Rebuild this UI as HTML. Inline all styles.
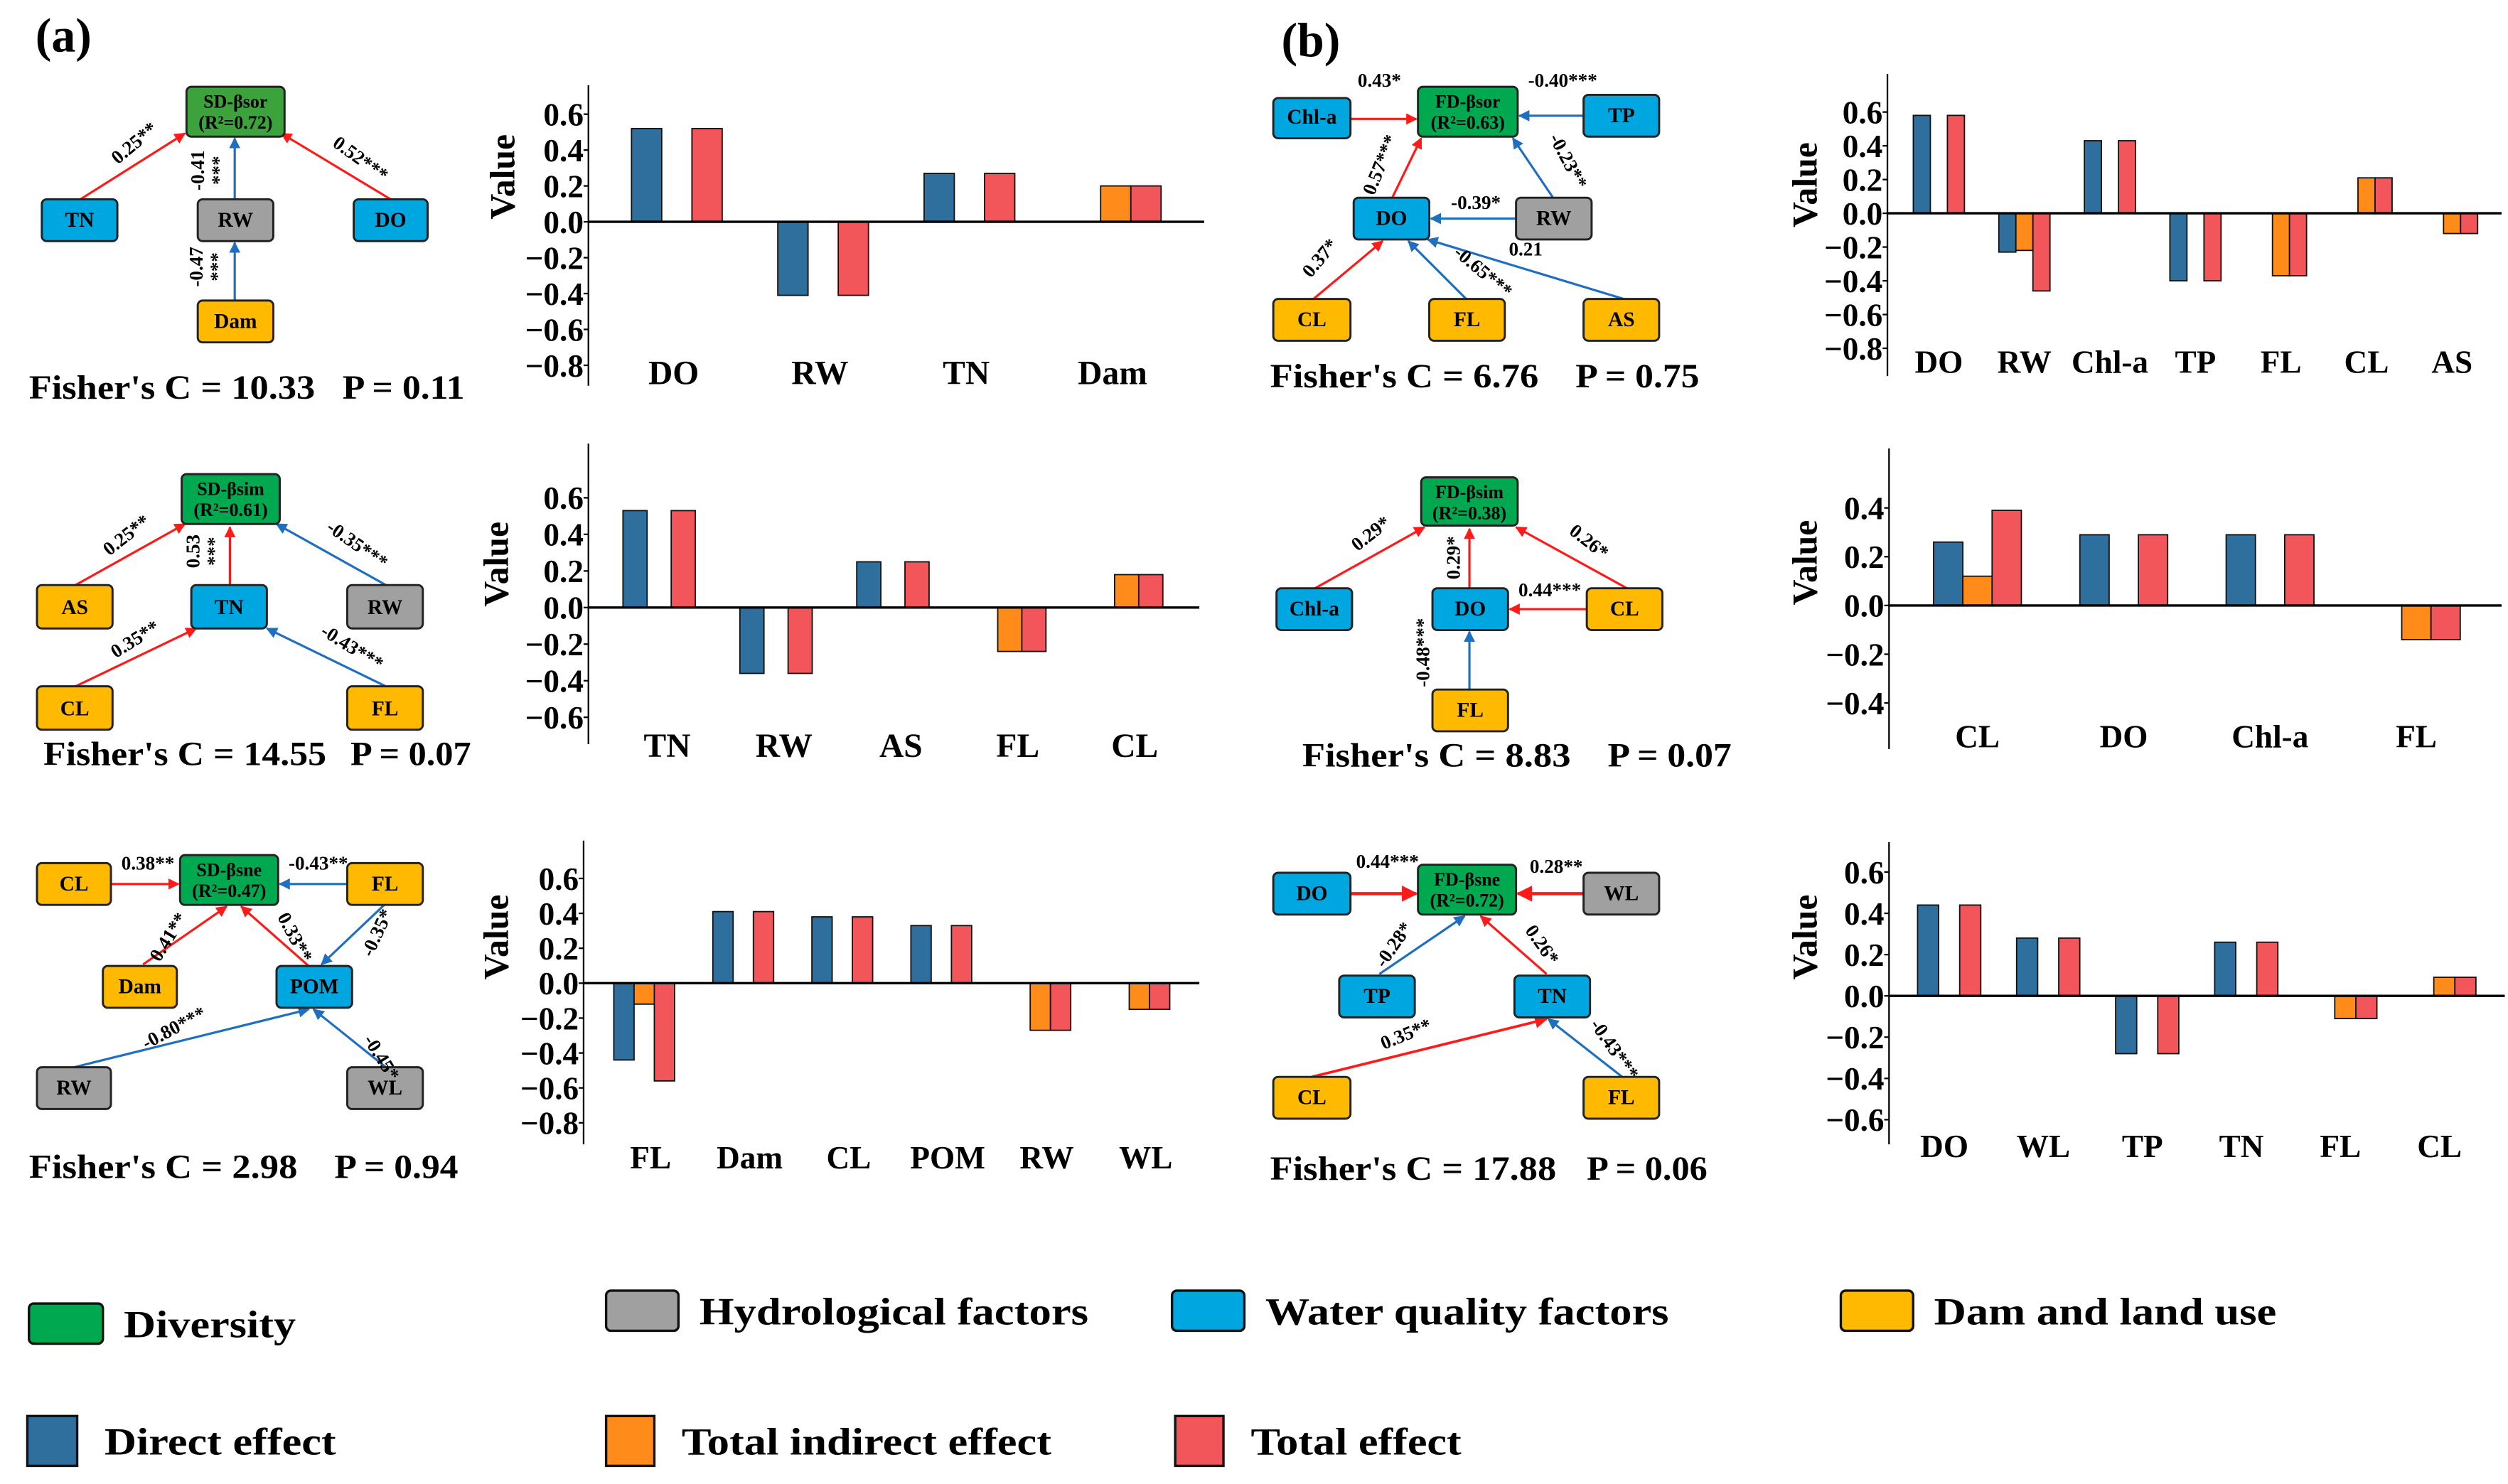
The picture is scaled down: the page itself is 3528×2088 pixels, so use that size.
<!DOCTYPE html>
<html><head><meta charset="utf-8"><title>SEM paths and effects</title>
<style>
html,body{margin:0;padding:0;background:#fff;}
svg{display:block;}
text{font-family:"Liberation Serif",serif;font-weight:bold;fill:#000;}
.nd{stroke:#222;stroke-width:1.3;}
.nt{font-size:13px;text-anchor:middle;}
.el{font-size:12px;text-anchor:middle;}
.fc{font-size:21px;}
.lg{font-size:24px;}
</style></head>
<body>
<svg id="fig" xmlns="http://www.w3.org/2000/svg" width="3528" height="2088" viewBox="0 0 1560 923.3" preserveAspectRatio="none">
<defs>
<marker id="ar" viewBox="0 0 10 10" refX="9" refY="5" markerWidth="5" markerHeight="5" orient="auto-start-reverse"><path d="M0,0 L10,5 L0,10 z" fill="#ff1a1a"/></marker>
<marker id="ab" viewBox="0 0 10 10" refX="9" refY="5" markerWidth="5" markerHeight="5" orient="auto-start-reverse"><path d="M0,0 L10,5 L0,10 z" fill="#1f6fc0"/></marker>
</defs>

<text x="22" y="32" style="font-size:30px">(a)</text>
<text x="797" y="35" style="font-size:30px">(b)</text>

<!-- a1 diagram -->
<g>
<line x1="50" y1="124" x2="115" y2="83" stroke="#ff1a1a" stroke-width="1.4" marker-end="url(#ar)"/>
<line x1="243" y1="124" x2="175" y2="83" stroke="#ff1a1a" stroke-width="1.4" marker-end="url(#ar)"/>
<line x1="146" y1="124" x2="146" y2="86" stroke="#1f6fc0" stroke-width="1.4" marker-end="url(#ab)"/>
<line x1="146" y1="187" x2="146" y2="151" stroke="#1f6fc0" stroke-width="1.4" marker-end="url(#ab)"/>
<rect class="nd" x="116" y="54" width="61" height="31" rx="3" fill="#3ca23c"/>
<text class="nt" x="146.5" y="67" style="font-size:11.5px">SD-βsor</text><text class="nt" x="146.5" y="80" style="font-size:11.5px">(R²=0.72)</text>
<rect class="nd" x="26" y="124" width="47" height="26" rx="3" fill="#00a6e0"/><text class="nt" x="49.5" y="141">TN</text>
<rect class="nd" x="123" y="124" width="47" height="26" rx="3" fill="#a0a0a0"/><text class="nt" x="146.5" y="141">RW</text>
<rect class="nd" x="220" y="124" width="46" height="26" rx="3" fill="#00a6e0"/><text class="nt" x="243" y="141">DO</text>
<rect class="nd" x="123" y="187" width="47" height="26" rx="3" fill="#ffba00"/><text class="nt" x="146.5" y="204">Dam</text>
<text class="el" transform="translate(86,92) rotate(-40)">0.25**</text>
<text class="el" transform="translate(222,102) rotate(36)">0.52***</text>
<text class="el" transform="translate(127,106) rotate(-90)">-0.41</text>
<text class="el" transform="translate(140,106) rotate(-90)">***</text>
<text class="el" transform="translate(126,166) rotate(-90)">-0.47</text>
<text class="el" transform="translate(139,166) rotate(-90)">***</text>
<g>
<text class="fc" x="18" y="248" textLength="178" lengthAdjust="spacingAndGlyphs">Fisher's C = 10.33</text>
<text class="fc" x="213" y="248" textLength="76" lengthAdjust="spacingAndGlyphs">P = 0.11</text></g>
</g>

<!-- a2 diagram -->
<g>
<line x1="47" y1="364" x2="115" y2="326" stroke="#ff1a1a" stroke-width="1.4" marker-end="url(#ar)"/>
<line x1="143" y1="364" x2="143" y2="328" stroke="#ff1a1a" stroke-width="1.4" marker-end="url(#ar)"/>
<line x1="240" y1="364" x2="172" y2="326" stroke="#1f6fc0" stroke-width="1.4" marker-end="url(#ab)"/>
<line x1="47" y1="427" x2="122" y2="391" stroke="#ff1a1a" stroke-width="1.4" marker-end="url(#ar)"/>
<line x1="240" y1="427" x2="166" y2="391" stroke="#1f6fc0" stroke-width="1.4" marker-end="url(#ab)"/>
<rect class="nd" x="113" y="295" width="61" height="31" rx="3" fill="#00a84f"/>
<text class="nt" x="143.5" y="308" style="font-size:11.5px">SD-βsim</text><text class="nt" x="143.5" y="321" style="font-size:11.5px">(R²=0.61)</text>
<rect class="nd" x="23" y="364" width="47" height="27" rx="3" fill="#ffba00"/><text class="nt" x="46.5" y="382">AS</text>
<rect class="nd" x="119" y="364" width="47" height="27" rx="3" fill="#00a6e0"/><text class="nt" x="142.5" y="382">TN</text>
<rect class="nd" x="216" y="364" width="47" height="27" rx="3" fill="#a0a0a0"/><text class="nt" x="239.5" y="382">RW</text>
<rect class="nd" x="23" y="427" width="47" height="27" rx="3" fill="#ffba00"/><text class="nt" x="46.5" y="445">CL</text>
<rect class="nd" x="216" y="427" width="47" height="27" rx="3" fill="#ffba00"/><text class="nt" x="239.5" y="445">FL</text>
<text class="el" transform="translate(81,336) rotate(-38)">0.25**</text>
<text class="el" transform="translate(124,343) rotate(-90)">0.53</text>
<text class="el" transform="translate(137,343) rotate(-90)">***</text>
<text class="el" transform="translate(220,342) rotate(35)">-0.35***</text>
<text class="el" transform="translate(86,401) rotate(-32)">0.35**</text>
<text class="el" transform="translate(217,406) rotate(32)">-0.43***</text>
<g>
<text class="fc" x="27" y="476" textLength="176" lengthAdjust="spacingAndGlyphs">Fisher's C = 14.55</text>
<text class="fc" x="218" y="476" textLength="75" lengthAdjust="spacingAndGlyphs">P = 0.07</text></g>
</g>

<!-- a3 diagram -->
<g>
<line x1="69" y1="550" x2="111" y2="550" stroke="#ff1a1a" stroke-width="1.4" marker-end="url(#ar)"/>
<line x1="216" y1="550" x2="174" y2="550" stroke="#1f6fc0" stroke-width="1.4" marker-end="url(#ab)"/>
<line x1="89" y1="600" x2="141" y2="564" stroke="#ff1a1a" stroke-width="1.4" marker-end="url(#ar)"/>
<line x1="192" y1="601" x2="150" y2="564" stroke="#ff1a1a" stroke-width="1.4" marker-end="url(#ar)"/>
<line x1="239" y1="563" x2="200" y2="600" stroke="#1f6fc0" stroke-width="1.4" marker-end="url(#ab)"/>
<line x1="46" y1="664" x2="192" y2="628" stroke="#1f6fc0" stroke-width="1.4" marker-end="url(#ab)"/>
<line x1="240" y1="664" x2="195" y2="628" stroke="#1f6fc0" stroke-width="1.4" marker-end="url(#ab)"/>
<rect class="nd" x="112" y="532" width="61" height="31" rx="3" fill="#00a84f"/>
<text class="nt" x="142.5" y="545" style="font-size:11.5px">SD-βsne</text><text class="nt" x="142.5" y="558" style="font-size:11.5px">(R²=0.47)</text>
<rect class="nd" x="23" y="537" width="46" height="26" rx="3" fill="#ffba00"/><text class="nt" x="46" y="554">CL</text>
<rect class="nd" x="216" y="537" width="47" height="26" rx="3" fill="#ffba00"/><text class="nt" x="239.5" y="554">FL</text>
<rect class="nd" x="64" y="601" width="46" height="26" rx="3" fill="#ffba00"/><text class="nt" x="87" y="618">Dam</text>
<rect class="nd" x="172" y="601" width="47" height="26" rx="3" fill="#00a6e0"/><text class="nt" x="195.5" y="618">POM</text>
<rect class="nd" x="23" y="664" width="46" height="26" rx="3" fill="#a0a0a0"/><text class="nt" x="46" y="681">RW</text>
<rect class="nd" x="216" y="664" width="47" height="26" rx="3" fill="#a0a0a0"/><text class="nt" x="239.5" y="681">WL</text>
<text class="el" x="92" y="541">0.38**</text>
<text class="el" x="198" y="541">-0.43**</text>
<text class="el" transform="translate(108,585) rotate(-58)">0.41**</text>
<text class="el" transform="translate(180,585) rotate(62)">0.33**</text>
<text class="el" transform="translate(238,582) rotate(-65)">-0.35*</text>
<text class="el" transform="translate(110,643) rotate(-28)">-0.80***</text>
<text class="el" transform="translate(234,660) rotate(58)">-0.45*</text>
<g>
<text class="fc" x="18" y="733" textLength="167" lengthAdjust="spacingAndGlyphs">Fisher's C = 2.98</text>
<text class="fc" x="208" y="733" textLength="77" lengthAdjust="spacingAndGlyphs">P = 0.94</text></g>
</g>

<!-- b1 diagram -->
<g>
<line x1="840" y1="74" x2="881" y2="74" stroke="#ff1a1a" stroke-width="1.4" marker-end="url(#ar)"/>
<line x1="985" y1="72" x2="945" y2="72" stroke="#1f6fc0" stroke-width="1.4" marker-end="url(#ab)"/>
<line x1="866" y1="123" x2="884" y2="86" stroke="#ff1a1a" stroke-width="1.4" marker-end="url(#ar)"/>
<line x1="966" y1="123" x2="941" y2="86" stroke="#1f6fc0" stroke-width="1.4" marker-end="url(#ab)"/>
<line x1="943" y1="136" x2="890" y2="136" stroke="#1f6fc0" stroke-width="1.4" marker-end="url(#ab)"/>
<line x1="817" y1="186" x2="860" y2="150" stroke="#ff1a1a" stroke-width="1.4" marker-end="url(#ar)"/>
<line x1="912" y1="186" x2="876" y2="150" stroke="#1f6fc0" stroke-width="1.4" marker-end="url(#ab)"/>
<line x1="1010" y1="186" x2="888" y2="149" stroke="#1f6fc0" stroke-width="1.4" marker-end="url(#ab)"/>
<rect class="nd" x="882" y="54" width="62" height="31" rx="3" fill="#00a84f"/>
<text class="nt" x="913" y="67" style="font-size:11.5px">FD-βsor</text><text class="nt" x="913" y="80" style="font-size:11.5px">(R²=0.63)</text>
<rect class="nd" x="792" y="61" width="48" height="25" rx="3" fill="#00a6e0"/><text class="nt" x="816" y="77">Chl-a</text>
<rect class="nd" x="985" y="59" width="47" height="26" rx="3" fill="#00a6e0"/><text class="nt" x="1008.5" y="76">TP</text>
<rect class="nd" x="842" y="123" width="47" height="26" rx="3" fill="#00a6e0"/><text class="nt" x="865.5" y="140">DO</text>
<rect class="nd" x="943" y="123" width="47" height="26" rx="3" fill="#a0a0a0"/><text class="nt" x="966.5" y="140">RW</text>
<rect class="nd" x="792" y="186" width="48" height="26" rx="3" fill="#ffba00"/><text class="nt" x="816" y="203">CL</text>
<rect class="nd" x="889" y="186" width="47" height="26" rx="3" fill="#ffba00"/><text class="nt" x="912.5" y="203">FL</text>
<rect class="nd" x="985" y="186" width="47" height="26" rx="3" fill="#ffba00"/><text class="nt" x="1008.5" y="203">AS</text>
<text class="el" x="858" y="54">0.43*</text>
<text class="el" x="972" y="54">-0.40***</text>
<text class="el" transform="translate(972,102) rotate(62)">-0.23**</text>
<text class="el" transform="translate(862,104) rotate(-68)">0.57***</text>
<text class="el" x="918" y="130">-0.39*</text>
<text class="el" x="949" y="159">0.21</text>
<text class="el" transform="translate(824,163) rotate(-50)">0.37*</text>
<text class="el" transform="translate(920,172) rotate(40)">-0.65***</text>
<g>
<text class="fc" x="790" y="241" textLength="167" lengthAdjust="spacingAndGlyphs">Fisher's C = 6.76</text>
<text class="fc" x="980" y="241" textLength="77" lengthAdjust="spacingAndGlyphs">P = 0.75</text></g>
</g>

<!-- b2 diagram -->
<g>
<line x1="818" y1="366" x2="886" y2="328" stroke="#ff1a1a" stroke-width="1.4" marker-end="url(#ar)"/>
<line x1="914" y1="366" x2="914" y2="329" stroke="#ff1a1a" stroke-width="1.4" marker-end="url(#ar)"/>
<line x1="1012" y1="366" x2="943" y2="328" stroke="#ff1a1a" stroke-width="1.4" marker-end="url(#ar)"/>
<line x1="987" y1="379" x2="939" y2="379" stroke="#ff1a1a" stroke-width="1.4" marker-end="url(#ar)"/>
<line x1="914" y1="429" x2="914" y2="393" stroke="#1f6fc0" stroke-width="1.4" marker-end="url(#ab)"/>
<rect class="nd" x="884" y="297" width="60" height="30" rx="3" fill="#00a84f"/>
<text class="nt" x="914" y="310" style="font-size:11.5px">FD-βsim</text><text class="nt" x="914" y="323" style="font-size:11.5px">(R²=0.38)</text>
<rect class="nd" x="794" y="366" width="47" height="26" rx="3" fill="#00a6e0"/><text class="nt" x="817.5" y="383">Chl-a</text>
<rect class="nd" x="891" y="366" width="47" height="26" rx="3" fill="#00a6e0"/><text class="nt" x="914.5" y="383">DO</text>
<rect class="nd" x="987" y="366" width="47" height="26" rx="3" fill="#ffba00"/><text class="nt" x="1010.5" y="383">CL</text>
<rect class="nd" x="891" y="429" width="47" height="26" rx="3" fill="#ffba00"/><text class="nt" x="914.5" y="446">FL</text>
<text class="el" transform="translate(855,335) rotate(-38)">0.29*</text>
<text class="el" transform="translate(908,347) rotate(-90)">0.29*</text>
<text class="el" transform="translate(986,340) rotate(38)">0.26*</text>
<text class="el" x="964" y="371">0.44***</text>
<text class="el" transform="translate(889,406) rotate(-90)">-0.48***</text>
<g>
<text class="fc" x="810" y="477" textLength="167" lengthAdjust="spacingAndGlyphs">Fisher's C = 8.83</text>
<text class="fc" x="1000" y="477" textLength="77" lengthAdjust="spacingAndGlyphs">P = 0.07</text></g>
</g>

<!-- b3 diagram -->
<g>
<line x1="840" y1="556" x2="881" y2="556" stroke="#ff1a1a" stroke-width="2" marker-end="url(#ar)"/>
<line x1="985" y1="556" x2="944" y2="556" stroke="#ff1a1a" stroke-width="2" marker-end="url(#ar)"/>
<line x1="858" y1="606" x2="911" y2="570" stroke="#1f6fc0" stroke-width="1.4" marker-end="url(#ab)"/>
<line x1="962" y1="606" x2="921" y2="570" stroke="#ff1a1a" stroke-width="1.4" marker-end="url(#ar)"/>
<line x1="816" y1="670" x2="962" y2="634" stroke="#ff1a1a" stroke-width="1.6" marker-end="url(#ar)"/>
<line x1="1009" y1="670" x2="963" y2="634" stroke="#1f6fc0" stroke-width="1.4" marker-end="url(#ab)"/>
<rect class="nd" x="882" y="538" width="61" height="31" rx="3" fill="#00a84f"/>
<text class="nt" x="912.5" y="551" style="font-size:11.5px">FD-βsne</text><text class="nt" x="912.5" y="564" style="font-size:11.5px">(R²=0.72)</text>
<rect class="nd" x="792" y="543" width="48" height="26" rx="3" fill="#00a6e0"/><text class="nt" x="816" y="560">DO</text>
<rect class="nd" x="985" y="543" width="47" height="26" rx="3" fill="#a0a0a0"/><text class="nt" x="1008.5" y="560">WL</text>
<rect class="nd" x="833" y="607" width="47" height="26" rx="3" fill="#00a6e0"/><text class="nt" x="856.5" y="624">TP</text>
<rect class="nd" x="942" y="607" width="47" height="26" rx="3" fill="#00a6e0"/><text class="nt" x="965.5" y="624">TN</text>
<rect class="nd" x="792" y="670" width="48" height="26" rx="3" fill="#ffba00"/><text class="nt" x="816" y="687">CL</text>
<rect class="nd" x="985" y="670" width="47" height="26" rx="3" fill="#ffba00"/><text class="nt" x="1008.5" y="687">FL</text>
<text class="el" x="863" y="540">0.44***</text>
<text class="el" x="968" y="543">0.28**</text>
<text class="el" transform="translate(870,590) rotate(-55)">-0.28*</text>
<text class="el" transform="translate(956,590) rotate(55)">0.26*</text>
<text class="el" transform="translate(876,647) rotate(-22)">0.35**</text>
<text class="el" transform="translate(1001,655) rotate(55)">-0.43***</text>
<g>
<text class="fc" x="790" y="734" textLength="178" lengthAdjust="spacingAndGlyphs">Fisher's C = 17.88</text>
<text class="fc" x="987" y="734" textLength="75" lengthAdjust="spacingAndGlyphs">P = 0.06</text></g>
</g>

<!-- legend -->
<g>
<g><rect x="18" y="811" width="46" height="25" rx="3" fill="#00a84f" stroke="#111" stroke-width="1.5"/><text class="lg" x="77" y="832" textLength="107" lengthAdjust="spacingAndGlyphs">Diversity</text></g>
<g><rect x="377" y="803" width="45" height="25" rx="3" fill="#a0a0a0" stroke="#111" stroke-width="1.5"/><text class="lg" x="435" y="824" textLength="242" lengthAdjust="spacingAndGlyphs">Hydrological factors</text></g>
<g><rect x="729" y="803" width="45" height="25" rx="3" fill="#00a6e0" stroke="#111" stroke-width="1.5"/><text class="lg" x="787" y="824" textLength="251" lengthAdjust="spacingAndGlyphs">Water quality factors</text></g>
<g><rect x="1145" y="803" width="45" height="25" rx="3" fill="#ffba00" stroke="#111" stroke-width="1.5"/><text class="lg" x="1203" y="824" textLength="213" lengthAdjust="spacingAndGlyphs">Dam and land use</text></g>
<g><rect x="17" y="881" width="31" height="31" fill="#2e6f9e" stroke="#111" stroke-width="1.5"/><text class="lg" x="65" y="905" textLength="144" lengthAdjust="spacingAndGlyphs">Direct effect</text></g>
<g><rect x="377" y="881" width="30" height="31" fill="#ff8c1a" stroke="#111" stroke-width="1.5"/><text class="lg" x="424" y="905" textLength="230" lengthAdjust="spacingAndGlyphs">Total indirect effect</text></g>
<g><rect x="731" y="881" width="30" height="31" fill="#f2565a" stroke="#111" stroke-width="1.5"/><text class="lg" x="778" y="905" textLength="131" lengthAdjust="spacingAndGlyphs">Total effect</text></g>
</g>
<g id="charts"></g>
</svg>
<script>
// ---- data ----
const a1Cats = ["DO","RW","TN","Dam"];
const a1Direct = [0.52,-0.41,0.27,0];
const a1Indirect = [0,0,0,0.20];
const a1Total = [0.52,-0.41,0.27,0.20];
const a1Ticks = ["0.6","0.4","0.2","0.0","-0.2","-0.4","-0.6","-0.8"];

const a2Cats = ["TN","RW","AS","FL","CL"];
const a2Direct = [0.53,-0.36,0.25,0,0];
const a2Indirect = [0,0,0,-0.24,0.18];
const a2Total = [0.53,-0.36,0.25,-0.24,0.18];
const a2Ticks = ["0.6","0.4","0.2","0.0","-0.2","-0.4","-0.6"];

const a3Cats = ["FL","Dam","CL","POM","RW","WL"];
const a3Direct = [-0.44,0.41,0.38,0.33,0,0];
const a3Indirect = [-0.12,0,0,0,-0.27,-0.15];
const a3Total = [-0.56,0.41,0.38,0.33,-0.27,-0.15];
const a3Ticks = ["0.6","0.4","0.2","0.0","-0.2","-0.4","-0.6","-0.8"];

const b1Cats = ["DO","RW","Chl-a","TP","FL","CL","AS"];
const b1Direct = [0.58,-0.23,0.43,-0.40,0,0,0];
const b1Indirect = [0,-0.22,0,0,-0.37,0.21,-0.12];
const b1Total = [0.58,-0.46,0.43,-0.40,-0.37,0.21,-0.12];
const b1Ticks = ["0.6","0.4","0.2","0.0","-0.2","-0.4","-0.6","-0.8"];

const b2Cats = ["CL","DO","Chl-a","FL"];
const b2Direct = [0.26,0.29,0.29,0];
const b2Indirect = [0.12,0,0,-0.14];
const b2Total = [0.39,0.29,0.29,-0.14];
const b2Ticks = ["0.4","0.2","0.0","-0.2","-0.4"];

const b3Cats = ["DO","WL","TP","TN","FL","CL"];
const b3Direct = [0.44,0.28,-0.28,0.26,0,0];
const b3Indirect = [0,0,0,0,-0.11,0.09];
const b3Total = [0.44,0.28,-0.28,0.26,-0.11,0.09];
const b3Ticks = ["0.6","0.4","0.2","0.0","-0.2","-0.4","-0.6"];

// ---- layout ----
const NS = "http://www.w3.org/2000/svg";
const COLORS = ["#2e6f9e","#ff8c1a","#f2565a"];
const SERIES = ["direct","indirect","total"];
function mk(tag, parent, attrs){
  const e = document.createElementNS(NS, tag);
  for (const k in attrs) e.setAttribute(k, attrs[k]);
  parent.appendChild(e);
  return e;
}
function drawChart(id, L, cats, direct, indirect, total, ticks){
  const root = document.getElementById("charts");
  const g = mk("g", root, {});
  
  
  const y = v => L.y0 - v * L.unit;
  const x = i => L.c0 + i * L.step;
  const ax = mk("line", g, {x1:L.ax, y1:L.top, x2:L.ax, y2:L.bot, stroke:"#000", "stroke-width":1});
  
  
  ticks.forEach(t => {
    const v = parseFloat(t);
    const tk = mk("line", g, {x1:L.ax-3, y1:y(v), x2:L.ax, y2:y(v), stroke:"#000", "stroke-width":1});
    
    
    const tl = mk("text", g, {x:L.ax-3, y:y(v)+7, "text-anchor":"end", "font-size":L.tf});
    tl.textContent = t.replace("-", "\u2212");
    
    
  });
  const yt = mk("text", g, {transform:"translate("+L.vx+","+L.vy+") rotate(-90)", "text-anchor":"middle", "font-size":22});
  yt.textContent = "Value";
  
  
  const series = [direct, indirect, total];
  cats.forEach((c, i) => {
    series.forEach((arr, s) => {
      const v = arr[i];
      if (!v) return;
      const bx = x(i) + (s - 1) * L.bw - L.bw / 2;
      const y1 = Math.min(y(v), L.y0), h = Math.abs(y(v) - L.y0);
      const r = mk("rect", g, {x:bx, y:y1, width:L.bw, height:h, fill:COLORS[s], stroke:"#111", "stroke-width":0.8});
      
      
    });
    const cl = mk("text", g, {x:x(i)+L.lo, y:L.ly, "text-anchor":"middle", "font-size":L.cf});
    cl.textContent = c;
    
    
  });
  const base = mk("line", g, {x1:L.ax, y1:L.y0, x2:L.right, y2:L.y0, stroke:"#000", "stroke-width":1.5});
  
  
}
drawChart("chart-sd-bsor", {ax:366,y0:138,unit:111.6,top:53,bot:240,right:749,c0:421,step:91,bw:18.8,tf:20,cf:21,ly:239,lo:-2,vx:320,vy:110}, a1Cats,a1Direct,a1Indirect,a1Total,a1Ticks);
drawChart("chart-sd-bsim", {ax:366,y0:378,unit:113.8,top:276,bot:463,right:746,c0:410,step:72.7,bw:15,tf:20,cf:21,ly:471,lo:5,vx:316,vy:351}, a2Cats,a2Direct,a2Indirect,a2Total,a2Ticks);
drawChart("chart-sd-bsne", {ax:363,y0:611.7,unit:108.6,top:523,bot:712,right:746,c0:400.7,step:61.6,bw:12.6,tf:20,cf:20,ly:727,lo:4,vx:316,vy:583}, a3Cats,a3Direct,a3Indirect,a3Total,a3Ticks);
drawChart("chart-fd-bsor", {ax:1174,y0:132.7,unit:105,top:46,bot:234,right:1556,c0:1206,step:53.2,bw:10.6,tf:20,cf:20,ly:232,lo:0,vx:1130,vy:115}, b1Cats,b1Direct,b1Indirect,b1Total,b1Ticks);
drawChart("chart-fd-bsim", {ax:1175,y0:376.7,unit:151.7,top:279,bot:466,right:1556,c0:1230,step:91,bw:18.2,tf:20,cf:20,ly:465,lo:0,vx:1130,vy:350}, b2Cats,b2Direct,b2Indirect,b2Total,b2Ticks);
drawChart("chart-fd-bsne", {ax:1175,y0:619.6,unit:128.4,top:524,bot:712,right:1558,c0:1212.4,step:61.6,bw:13.1,tf:20,cf:20,ly:720,lo:-3,vx:1130,vy:583}, b3Cats,b3Direct,b3Indirect,b3Total,b3Ticks);
</script>
</body></html>
